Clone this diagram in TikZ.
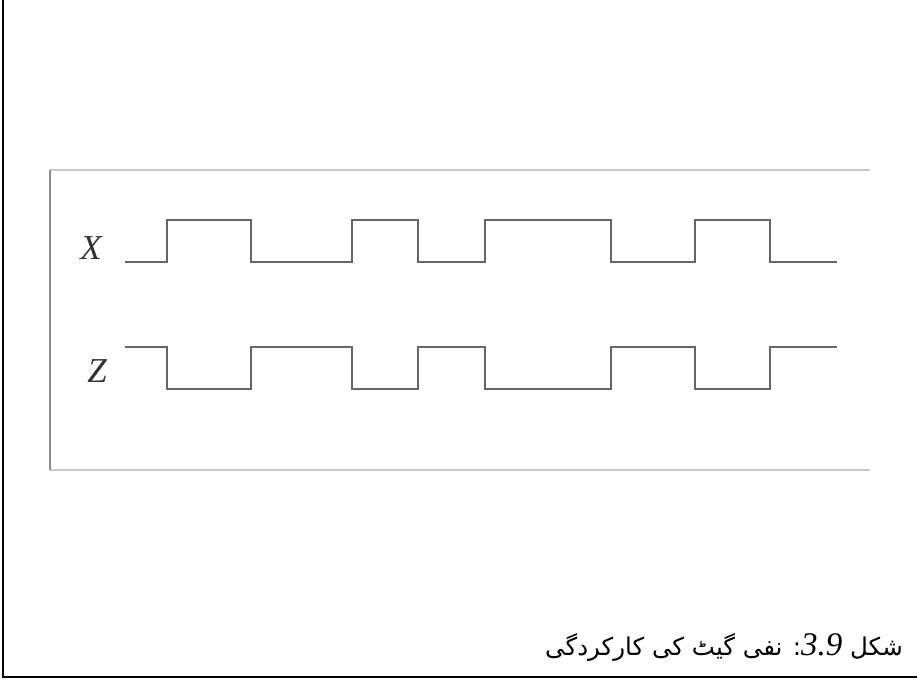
\documentclass[tikz,border=0pt]{standalone}
\usepackage{fontspec}
\TeXXeTstate=1
\newfontfamily\urdufont[Script=Arabic]{DejaVu Sans}
\newfontfamily\numfont{Liberation Serif}
\begin{document}
\begin{tikzpicture}[x=1pt,y=-1pt,
  wave/.style={draw=black!60,line width=1.5pt,line join=miter},
  frameline/.style={draw=black,line width=2pt},
  boxline/.style={draw=black!22,line width=1.2pt},
  boxleft/.style={draw=black!45,line width=1.2pt},
  siglabel/.style={inner sep=0pt,font=\numfont\itshape\fontsize{35}{40}\selectfont,text=black!80}]
\useasboundingbox (0,0) rectangle (917,680);
% outer frame (left and bottom edges visible)
\draw[frameline] (3,0) -- (3,677) -- (917,677);
% inner box
\draw[boxline] (50,170) -- (870,170);
\draw[boxline] (50,470) -- (870,470);
\draw[boxleft] (50,170) -- (50,470);
% X waveform
\draw[wave] (125,262) -- (167,262) -- (167,220) -- (251,220) -- (251,262)
  -- (352,262) -- (352,220) -- (418,220) -- (418,262)
  -- (485,262) -- (485,220) -- (611,220) -- (611,262)
  -- (695,262) -- (695,220) -- (770,220) -- (770,262) -- (837,262);
% Z waveform
\draw[wave] (125,347) -- (167,347) -- (167,389) -- (251,389) -- (251,347)
  -- (352,347) -- (352,389) -- (418,389) -- (418,347)
  -- (485,347) -- (485,389) -- (611,389) -- (611,347)
  -- (695,347) -- (695,389) -- (770,389) -- (770,347) -- (837,347);
% labels
\node[siglabel,anchor=base] (lx) at (91,259) {X};
\node[siglabel,anchor=base] (lz) at (97,382) {Z};
% caption
\node[inner sep=0pt,anchor=base east,font=\fontsize{24.5}{30}\selectfont] (cap) at (903,655)
  {\urdufont\beginR شکل \beginL{\numfont\itshape\fontsize{33}{40}\selectfont 3.9}\endL: نفی گیٹ کی کارکردگی\endR};
\end{tikzpicture}
\end{document}
